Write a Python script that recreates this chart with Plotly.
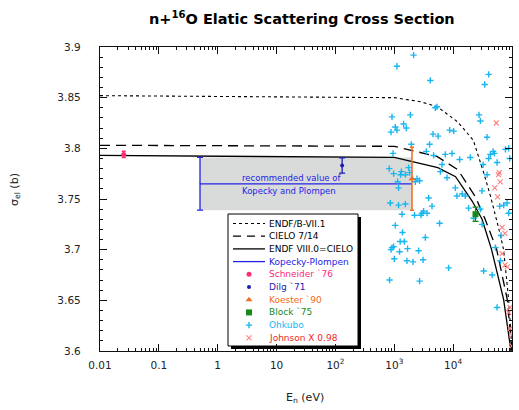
import plotly.graph_objects as go

W, H = 519, 410
L, R, T, B = 100, 7, 47, 59
PW, PH = W - L - R, H - T - B

# ---------------- data ----------------
endf71_E = [0.01, 1e3, 2.8e3, 5.4e3, 1.2e4, 2.2e4, 3.3e4, 4.3e4, 6.0e4, 7.2e4, 8.8e4, 1e5]
endf71_s = [3.852, 3.850, 3.846, 3.841, 3.826, 3.808, 3.776, 3.753, 3.720, 3.700, 3.650, 3.600]

cielo_E = [0.01, 1e3, 5.3e3, 1.2e4, 2.4e4, 3.5e4, 5.5e4, 8.3e4, 1e5]
cielo_s = [3.803, 3.802, 3.792, 3.779, 3.752, 3.730, 3.700, 3.651, 3.600]

endf80_E = [0.01, 1e3, 5.5e3, 1.1e4, 2.1e4, 3.1e4, 4.5e4, 7.2e4, 9.5e4, 1e5]
endf80_s = [3.793, 3.791, 3.781, 3.772, 3.748, 3.730, 3.700, 3.651, 3.602, 3.590]

kp_E = [0.5, 2000]
kp_val = 3.765
kp_err = 0.026

schneider_E = [0.0253]; schneider_s = [3.794]; schneider_err = [0.003]
dilg_E = [130]; dilg_s = [3.783]; dilg_err = [0.0075]
koester_E = [2000]; koester_s = [3.770]; koester_err = [0.031]
block_E = [2.4e4]; block_s = [3.735]; block_err = [0.007]

ohkubo_E = [2130, 1110, 4090, 5320, 4980, 1870, 914, 1440, 1040, 1110, 1600, 879, 4550, 5540,
            1950, 3980, 40200, 34400, 27500, 29000, 8720, 10200, 37700, 87900, 951, 3500, 4660,
            6470, 6060, 822, 973, 1320, 1280, 1540, 1750, 1820, 2430, 2690, 1140, 1180, 2280,
            3830, 855, 1180, 1540, 4380, 3150, 2960, 3600, 1350, 2210, 2840, 1040, 5890, 1380,
            3370, 1260, 1480, 973, 914, 879, 1680, 1230, 2590, 1000, 1640, 2080, 3080, 832,
            2690, 8380, 33000, 45900, 55800, 63500, 47700, 50200, 40200, 32300, 37700, 77300,
            91400, 31000, 82500, 7370, 9580, 19600, 42900, 12900, 55800, 7870, 10900, 14200,
            16100, 11600, 61800, 18300, 29000, 22300, 87900, 31000, 65300, 52200, 72300]
ohkubo_s = [3.892, 3.881, 3.867, 3.841, 3.840, 3.833, 3.831, 3.824, 3.821, 3.818, 3.820, 3.816,
            3.814, 3.812, 3.804, 3.804, 3.873, 3.863, 3.833, 3.827, 3.818, 3.817, 3.811, 3.800,
            3.795, 3.797, 3.793, 3.784, 3.777, 3.780, 3.775, 3.777, 3.774, 3.774, 3.781, 3.776,
            3.770, 3.768, 3.767, 3.761, 3.767, 3.751, 3.746, 3.744, 3.745, 3.743, 3.738, 3.736,
            3.736, 3.735, 3.734, 3.734, 3.724, 3.726, 3.717, 3.712, 3.708, 3.708, 3.703, 3.702,
            3.700, 3.701, 3.698, 3.699, 3.691, 3.689, 3.688, 3.690, 3.670, 3.669, 3.682, 3.679,
            3.675, 3.643, 3.689, 3.797, 3.795, 3.790, 3.784, 3.774, 3.799, 3.790, 3.758, 3.746,
            3.794, 3.795, 3.791, 3.794, 3.789, 3.786, 3.771, 3.761, 3.755, 3.753, 3.753, 3.743,
            3.741, 3.740, 3.731, 3.736, 3.725, 3.714, 3.702, 3.744]

johnson_E = [5.4e4, 5.9e4, 6.1e4, 6.3e4, 5.1e4, 5.7e4, 6.8e4, 7.6e4, 6.8e4, 7.6e4, 8.3e4,
             9.3e4, 8.8e4, 9.3e4, 1e5, 1e5]
johnson_s = [3.825, 3.774, 3.776, 3.767, 3.761, 3.752, 3.722, 3.716, 3.696, 3.685, 3.683,
             3.643, 3.638, 3.622, 3.616, 3.605]

x_tickvals = [0.01, 0.1, 1, 10, 100, 1000, 1e4, 1e5]
x_ticktext = ["0.01", "0.1", "1", "10", "10<sup>2</sup>", "10<sup>3</sup>", "10<sup>4</sup>", "10<sup>5</sup>"]
y_tickvals = [3.6, 3.65, 3.7, 3.75, 3.8, 3.85, 3.9]
y_ticktext = ["3.6", "3.65", "3.7", "3.75", "3.8", "3.85", "3.9"]

legend_names = ["ENDF/B-VII.1", "CIELO 7/14", "ENDF VIII.0=CIELO", "Kopecky-Plompen",
                "Schneider `76", "Dilg `71", "Koester `90", "Block `75", "Ohkubo", "Johnson X 0.98"]

# ---------------- styles ----------------
FONT = "DejaVu Sans"
C_KP = "#2323e6"
C_SCH = "#ff2a78"
C_DILG = "#1c1cb4"
C_KOE = "#f26b21"
C_BLOCK = "#16891a"
C_OHK = "#1ab6f0"
C_JOHN_M = "#ff8080"
C_JOHN_T = "#f01e1e"

fig = go.Figure()

# gray band (Kopecky-Plompen recommended value)
fig.add_trace(go.Scatter(
    x=[kp_E[0], kp_E[1], kp_E[1], kp_E[0], kp_E[0]],
    y=[kp_val - kp_err, kp_val - kp_err, kp_val + kp_err, kp_val + kp_err, kp_val - kp_err],
    fill="toself", fillcolor="#d9dbdb", line=dict(width=0), mode="lines",
    hoverinfo="skip", showlegend=False))

fig.add_trace(go.Scatter(x=endf71_E, y=endf71_s, mode="lines",
                         line=dict(color="black", width=1.1, dash="3px,3px"), showlegend=False))
fig.add_trace(go.Scatter(x=cielo_E, y=cielo_s, mode="lines",
                         line=dict(color="black", width=1.3, dash="10px,6px"), showlegend=False))
fig.add_trace(go.Scatter(x=endf80_E, y=endf80_s, mode="lines",
                         line=dict(color="black", width=1.3), showlegend=False))

# Kopecky line + error bar at its left end
fig.add_trace(go.Scatter(x=kp_E, y=[kp_val, kp_val], mode="lines",
                         line=dict(color=C_KP, width=1.3), showlegend=False))
fig.add_trace(go.Scatter(x=[kp_E[0]], y=[kp_val], mode="markers",
                         marker=dict(size=1, color=C_KP),
                         error_y=dict(type="data", array=[kp_err], color=C_KP, thickness=1.3, width=3),
                         showlegend=False))

fig.add_trace(go.Scatter(x=ohkubo_E, y=ohkubo_s, mode="markers",
                         marker=dict(symbol="cross-thin", size=4.5, line=dict(color=C_OHK, width=1.4)),
                         showlegend=False))
fig.add_trace(go.Scatter(x=johnson_E, y=johnson_s, mode="markers",
                         marker=dict(symbol="x-thin", size=5, line=dict(color=C_JOHN_M, width=1.1)),
                         showlegend=False))

fig.add_trace(go.Scatter(x=koester_E, y=koester_s, mode="markers",
                         marker=dict(symbol="triangle-up", size=6, color=C_KOE),
                         error_y=dict(type="data", array=koester_err, color=C_KOE, thickness=1.5, width=2),
                         showlegend=False))
fig.add_trace(go.Scatter(x=schneider_E, y=schneider_s, mode="markers",
                         marker=dict(symbol="circle", size=5, color=C_SCH),
                         error_y=dict(type="data", array=schneider_err, color=C_SCH, thickness=1.5, width=2),
                         showlegend=False))
fig.add_trace(go.Scatter(x=dilg_E, y=dilg_s, mode="markers",
                         marker=dict(symbol="circle", size=4, color=C_DILG),
                         error_y=dict(type="data", array=dilg_err, color=C_DILG, thickness=1.3, width=3),
                         showlegend=False))
fig.add_trace(go.Scatter(x=block_E, y=block_s, mode="markers",
                         marker=dict(symbol="square", size=6, color=C_BLOCK),
                         error_y=dict(type="data", array=block_err, color=C_BLOCK, thickness=1.3, width=3),
                         showlegend=False))

# ---------------- manual legend (overlay axes = plot-area fraction) ----------------
def px(xp):
    return (xp - L) / PW

def py(yp):
    return (H - B - yp) / PH

box = (228, 214, 358, 346)
shapes = [
    dict(type="rect", xref="paper", yref="paper", x0=px(box[0] + 3), x1=px(box[2] + 3),
         y0=py(box[3] + 3), y1=py(box[1] + 3), fillcolor="black", line=dict(width=0), layer="below"),
    dict(type="rect", xref="paper", yref="paper", x0=px(box[0]), x1=px(box[2]),
         y0=py(box[3]), y1=py(box[1]), fillcolor="white", line=dict(color="black", width=1), layer="below"),
]
row_y = [223.5, 236.2, 248.9, 261.6, 274.3, 287.0, 299.7, 312.4, 325.1, 337.8]
ls_x0, ls_x1, lm_x, lt_x = 233, 265, 249, 267
legend_colors = ["black", "black", "black", C_KP, C_SCH, C_DILG, C_KOE, C_BLOCK, C_OHK, C_JOHN_T]
line_styles = [dict(color="black", width=1.1, dash="3px,3px"),
               dict(color="black", width=1.3, dash="8px,6px"),
               dict(color="black", width=1.3),
               dict(color=C_KP, width=1.3)]
for i in range(4):
    fig.add_trace(go.Scatter(x=[px(ls_x0), px(ls_x1)], y=[py(row_y[i])] * 2, mode="lines",
                             line=line_styles[i], xaxis="x2", yaxis="y2", showlegend=False,
                             hoverinfo="skip", cliponaxis=False))
marker_styles = [dict(symbol="circle", size=5, color=C_SCH),
                 dict(symbol="circle", size=4, color=C_DILG),
                 dict(symbol="triangle-up", size=6, color=C_KOE),
                 dict(symbol="square", size=6, color=C_BLOCK),
                 dict(symbol="cross-thin", size=4.5, line=dict(color=C_OHK, width=1.4)),
                 dict(symbol="x-thin", size=5, line=dict(color=C_JOHN_M, width=1.1))]
for j, ms in enumerate(marker_styles):
    fig.add_trace(go.Scatter(x=[px(lm_x)], y=[py(row_y[4 + j])], mode="markers", marker=ms,
                             xaxis="x2", yaxis="y2", showlegend=False, hoverinfo="skip",
                             cliponaxis=False))

annotations = []
for name, yy, col in zip(legend_names, row_y, legend_colors):
    annotations.append(dict(xref="paper", yref="paper", x=px(lt_x), y=py(yy), text=name,
                            showarrow=False, xanchor="left", yanchor="middle",
                            font=dict(family=FONT, size=9, color=col)))

annotations += [
    dict(xref="paper", yref="paper", x=px(240), y=py(178), text="recommended value of",
         showarrow=False, xanchor="left", yanchor="middle", font=dict(family=FONT, size=8.5, color=C_KP)),
    dict(xref="paper", yref="paper", x=px(240), y=py(191), text="Kopecky and Plompen",
         showarrow=False, xanchor="left", yanchor="middle", font=dict(family=FONT, size=8.5, color=C_KP)),
    dict(xref="paper", yref="paper", x=px(302), y=py(18),
         text="<b>n+<sup>16</sup>O Elatic Scattering Cross Section</b>",
         showarrow=False, xanchor="center", yanchor="middle", font=dict(family=FONT, size=14.5, color="black")),
    dict(xref="paper", yref="paper", x=px(305), y=py(398), text="E<sub>n</sub> (eV)",
         showarrow=False, xanchor="center", yanchor="middle", font=dict(family=FONT, size=11, color="#222")),
    dict(xref="paper", yref="paper", x=px(15), y=py(190), text="σ<sub>el</sub> (b)", textangle=-90,
         showarrow=False, xanchor="center", yanchor="middle", font=dict(family=FONT, size=11, color="#222")),
]

minor_x = [m * 10.0 ** k for k in range(-2, 5) for m in range(2, 10)]

fig.update_layout(
    width=W, height=H, margin=dict(l=L, r=R, t=T, b=B),
    paper_bgcolor="white", plot_bgcolor="white",
    showlegend=False, shapes=shapes, annotations=annotations,
    font=dict(family=FONT, size=10, color="#222"),
    xaxis=dict(type="log", range=[-2, 5], tickvals=x_tickvals, ticktext=x_ticktext,
               showgrid=False, zeroline=False, showline=True, linecolor="#111", linewidth=1.3,
               mirror="allticks", ticks="inside", ticklen=7, tickcolor="#111", tickwidth=1,
               minor=dict(tickvals=minor_x, ticks="inside", ticklen=3, tickcolor="#111", showgrid=False),
               ticklabelstandoff=4,
               tickfont=dict(family=FONT, size=10.5, color="#222")),
    yaxis=dict(range=[3.6, 3.9], tickvals=y_tickvals, ticktext=y_ticktext,
               showgrid=False, zeroline=False, showline=True, linecolor="#111", linewidth=1.3,
               mirror="allticks", ticks="inside", ticklen=7, tickcolor="#111", tickwidth=1,
               minor=dict(dtick=0.01, ticks="inside", ticklen=3, tickcolor="#111", showgrid=False),
               ticklabelstandoff=16,
               tickfont=dict(family=FONT, size=10.5, color="#222")),
    xaxis2=dict(overlaying="x", range=[0, 1], visible=False, domain=[0, 1]),
    yaxis2=dict(overlaying="y", range=[0, 1], visible=False, domain=[0, 1]),
)

fig.write_html("out.html")
